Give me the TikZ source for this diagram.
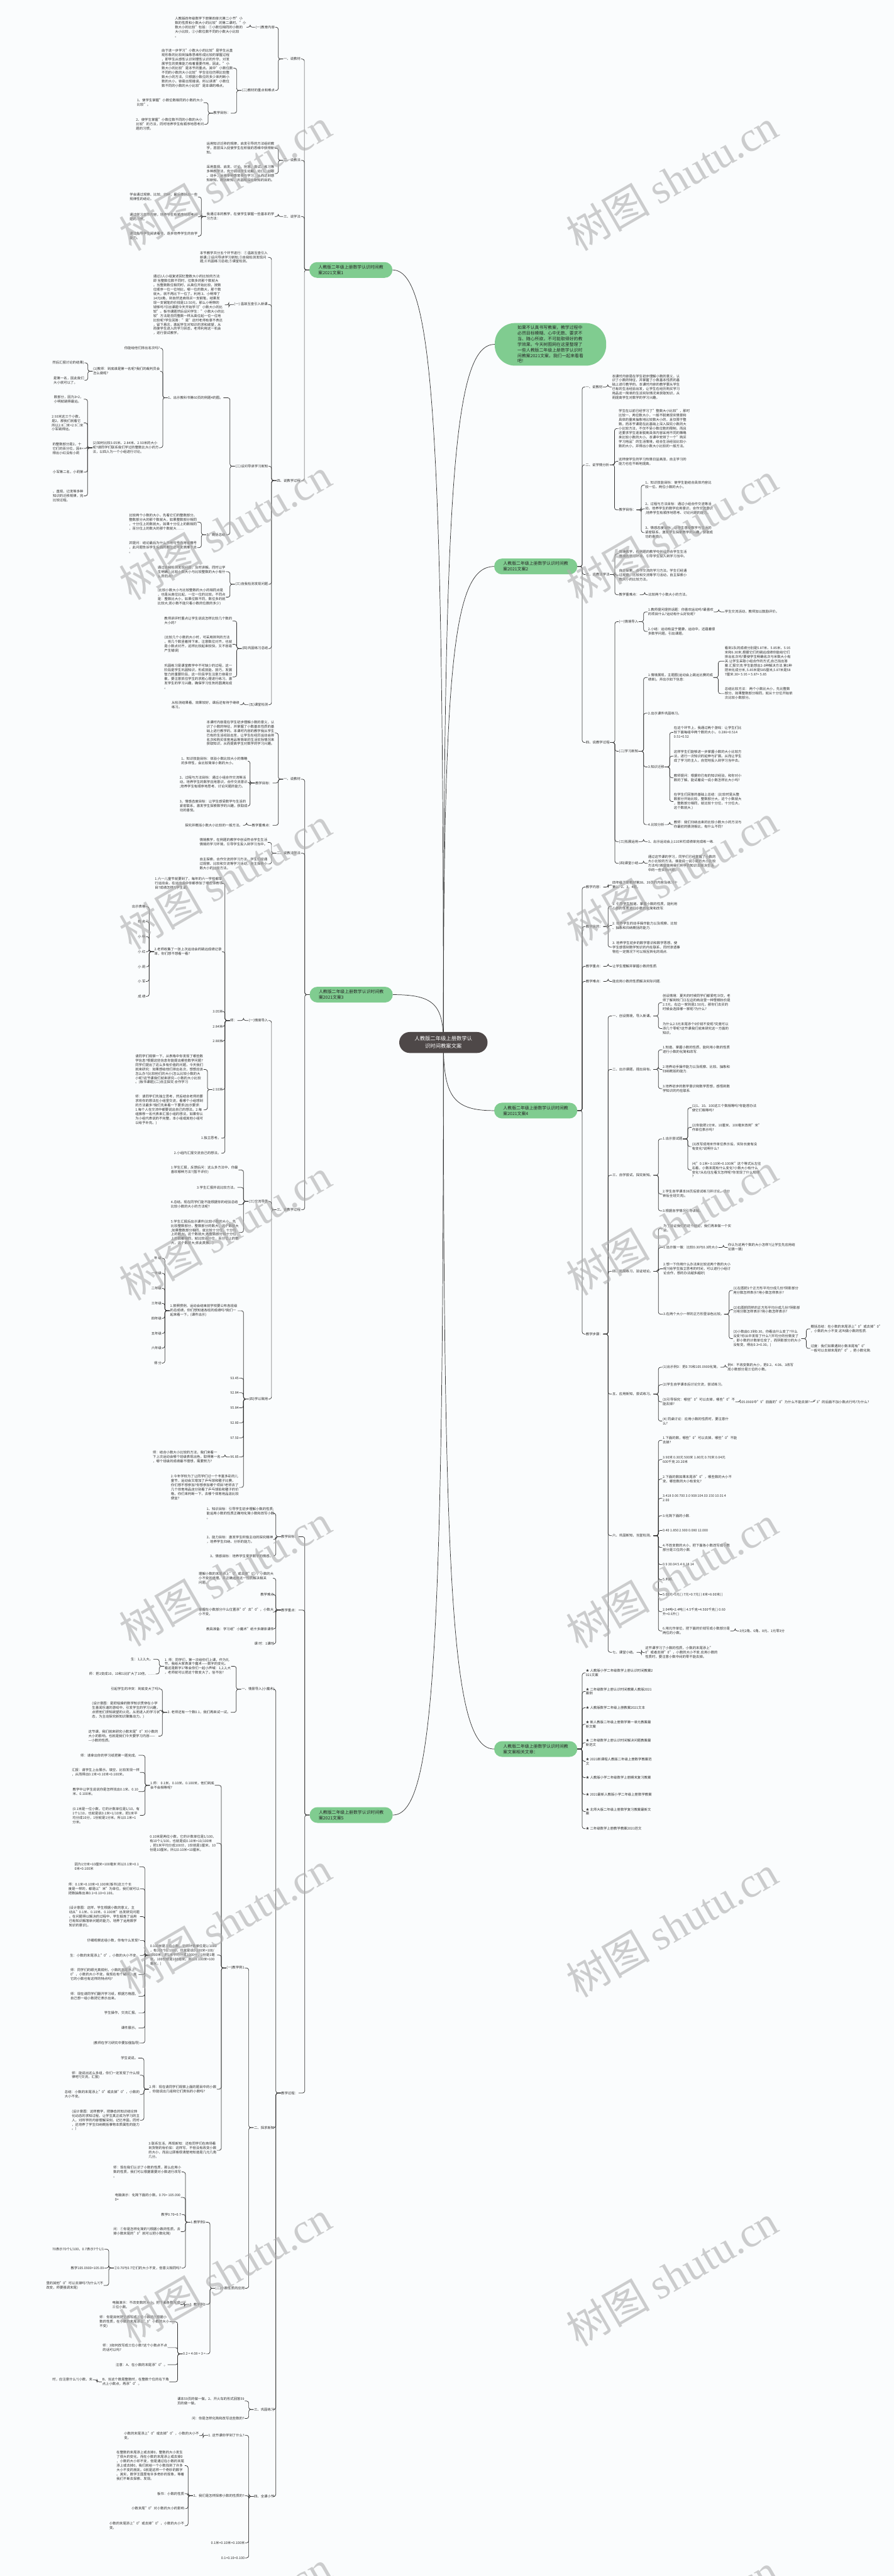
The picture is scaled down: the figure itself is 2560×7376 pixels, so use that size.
\documentclass[tikz,border=0pt]{standalone}
\usepackage{fontspec}
\setmainfont{Noto Sans CJK SC}
\newfontfamily\wmser{Liberation Serif}
\usetikzlibrary{calc}
\definecolor{grn}{HTML}{80CC90}
\definecolor{dk}{HTML}{4E4848}
\definecolor{txt}{HTML}{2E2E2E}
\definecolor{lc}{HTML}{333333}
\definecolor{bgc}{HTML}{FAFCFD}
\newcommand\tf{\fontsize{9.7}{12.5}\selectfont}
\newcommand\brf{\fontsize{12.4}{16}\selectfont}
\newcommand\ctf{\fontsize{15}{21}\selectfont}
\newcommand\lk[2]{\draw[cn] (#1.west) -| ([xshift=-14pt]#1.west |- #2.east) -- (#2.east);}
\newcommand\rk[2]{\draw[cn] (#1.east) -| ([xshift=14pt]#1.east |- #2.west) -- (#2.west);}
\newcommand\lks[2]{\foreach \nn in {#2}{\lk{#1}{\nn}}}
\newcommand\rks[2]{\foreach \nn in {#2}{\rk{#1}{\nn}}}
\newcommand\clv[1]{\draw[cn] (#1.east) .. controls ($(#1.east)!0.8!(#1.east -| C.center)$) and ($(C.center)!0.8!(C.center |- #1.east)$) .. (C.center);}
\newcommand\crv[1]{\draw[cn] (C.center) .. controls ($(C.center)!0.8!(C.center |- #1.west)$) and ($(#1.west)!0.8!(#1.west -| C.center)$) .. (#1.west);}
\newcommand\nl[4]{\node[L] (#1) at (#2,#3) {#4};}
\newcommand\nr[4]{\node[R] (#1) at (#2,#3) {#4};}
\pgfdeclarelayer{bgl}
\pgfdeclarelayer{fgl}
\pgfsetlayers{bgl,main,fgl}
\tikzset{
 tx/.style={font=\tf, align=left, inner sep=1pt, text=txt},
 L/.style={tx, anchor=east},
 R/.style={tx, anchor=west},
 br/.style={rounded corners=22pt, fill=grn, minimum width=238pt, minimum height=45pt, align=left, font=\brf, text=black!85, inner sep=0pt},
 ctr/.style={fill=dk, text=white, rounded corners=30pt, minimum width=253pt, minimum height=60pt, align=center, font=\ctf, inner sep=0pt},
 cn/.style={draw=lc, line width=1.3pt, rounded corners=6pt},
 wm/.style={rotate=30, text=black!32, text opacity=0.6, font=\fontsize{120}{120}\selectfont, inner sep=0pt}
}
\begin{document}
\begin{tikzpicture}[x=1pt,y=-1pt]
\begin{pgfonlayer}{bgl}\fill[bgc] (0,0) rectangle (2560,7376);\end{pgfonlayer}
\useasboundingbox (0,0) rectangle (2560,7376);
% ---------- center and branches
\node[ctr] (C) at (1270,2985) {人教版二年级上册数学认\\识时间教案文案};
\node[br, minimum width=319pt, minimum height=122pt, rounded corners=58pt, anchor=west] (IN) at (1417,986) {如果不认真书写教案，教学过程中\\必然目标模糊、心中无数、要求不\\当、随心所欲，不可能取得好的教\\学效果。今天树图网在这里整理了\\一些人教版二年级上册数学认识时\\间教案2021文案，我们一起来看看\\吧!};
\node[br] (B1) at (1005,773) {人教版二年级上册数学认识时间教\\案2021文案1};
\node[br] (B3) at (1006,2848) {人教版二年级上册数学认识时间教\\案2021文案3};
\node[br] (B5) at (1006,5197) {人教版二年级上册数学认识时间教\\案2021文案5};
\node[br] (B2) at (1534.5,1622) {人教版二年级上册数学认识时间教\\案2021文案2};
\node[br] (B4) at (1534.5,3180) {人教版二年级上册数学认识时间教\\案2021文案4};
\node[br] (B6) at (1534.5,5008) {人教版二年级上册数学认识时间教\\案文案相关文章：};
% ---------- B1
\nl{a1}{862}{169}{一、说教材}
\nl{a2}{862}{459}{二、说教法}
\nl{a3}{862}{620}{三、说学法}
\nl{a4}{862}{1376}{四、说教学过程}
\nl{a11}{788}{78}{(一)教育内容}
\nl{a12}{788}{259}{(二)教材的重点和难点}
\nl{a111}{706}{78}{人教版四年级数学下册第四单元第二小节"小\\数的性质和小数大小的比较"的第二课时。"小\\数大小的比较"包括：①小数位相同的小数的\\大小比较，②小数位数不同的小数大小比较\\。}
\nl{a121}{668}{195}{由于进一步学习"小数大小的比较"是学生从直\\观形象的比较到抽象思维形成比较的掌握过程\\，即学生从感性认识到理性认识的升华，对发\\展学生的类推能力有着重要作用。因此，"小\\数大小的比较"是本节的重点。其中"小数位数\\不同的小数的大小比较"学生往往仿照比较整\\数大小的方法，只根据小数位的多少来判断小\\数的大小，容易出现错误。所以讲清"小数位\\数不同的小数的大小比较"是本课的难点。}
\nl{a122}{661}{324}{教学目标：}
\nl{a1221}{583}{294}{1、使学生掌握"小数位数相同的小数的大小\\比较"。}
\nl{a1222}{585}{356}{2、使学生掌握"小数位数不同的小数的大小\\比较"的方法，同时培养学生有顺序地思考问\\题的习惯。}
\nl{a21}{787}{424}{运用知识迁移的规律，启发引导的方法组织教\\学，层层深入促使学生在积极的思维中获得新\\知。}
\nl{a22}{787}{497}{采用直观、启发、讨论、抢答、尝试、练习等\\多种教学法，充分调动学生动脑、动口、动眼\\、动手，运用多种感官参与学习，从而达到感\\知新知、概括新知、巩固和深化新知的目的。}
\nl{a31}{787}{620}{我通过本的教学，在使学生掌握一些基本的学\\习方法：}
\nl{a311}{567}{564}{学会通过观察、比较、归纳，最后概括出一些\\规律性的结论。}
\nl{a312}{567}{621}{通过学习本节内容，培养学生有顺序地思考问\\题的习惯。}
\nl{a313}{567}{676}{通过指导学生阅读看书，逐步培养学生的自学\\能力。}
\nl{a41}{768}{737}{本节教学共分五个环节进行：①温故互查引入\\新课;②设问导读学习新知;③自我检测发现问\\题;④巩固练习总结;⑤课堂检测。}
\nl{a42}{768}{872}{(一) 温故互查引入新课}
\nl{a421}{644}{873}{通过2人小组复述回忆整数大小的比较的方法:\\即 当整数位数不同时，位数多的那个数就大\\。当整数数位相同时，从高位开始比较，按数\\位顺序一位一位地比，哪一位的数大，那个数\\就大，就不再比下一位了。利用 3、小明带了\\14元8角，到自然选商场买一支钢笔，结果发\\现一支钢笔的价钱是13.50元，那么小明带的\\钱够吗?引出课题今天开始学习"小数大小的比\\较"。板书课题然后设问学生："小数大小的比\\较"方法是否同整数一样从高位起一位一位地\\比较呢?学生回答："是"这时老师有意不表达\\，留下悬念，激起学生对知识的求和欲望，从\\而使学生进入的学习状态，老师利用这一机会\\，进行尝试教学。}
\nl{a43}{769}{1335}{(二)设问导读学习新知}
\nl{a431}{640}{1139}{1、出示教科书第60页的例题4的图。}
\nl{a4311}{459}{997}{你能给他们排出名次吗?}
\nl{a4312}{459}{1063}{(1)教师：到底谁是第一名呢?我们的裁判员会\\怎么做呢?}
\nl{x1}{242}{1039}{然后汇报讨论的结果)}
\nl{x2}{242}{1089}{是第一名，因此我们\\大小就可以了。}
\nl{a4313}{456}{1282}{(2)如何比较3.05米、2.84米、2.93米的大小\\呢?请同学们联系我们学过的整数比大小的方\\法，以四人为一个小组进行讨论。}
\nl{x3}{240}{1143}{数部分，因为3>2，\\小明就跳得最远。}
\nl{x4}{240}{1211}{2.93米这三个小数，\\是2，那我们就看它\\所以2.8□米<2.9□米\\小军跳得远。}
\nl{x5}{240}{1284}{的整数部分是2，十\\它们的百分位，因4<\\得出小红没有小莉}
\nl{x6}{240}{1352}{小军第二名，小莉第}
\nl{x7}{240}{1420}{、直观、记发等多种\\知识的迁移规律，完\\比较过程。}
\nl{a432}{647}{1531}{3、概括总结}
\nl{a4321}{565}{1495}{比较两个小数的大小，先看它们的整数部分，\\整数部分大的那个数就大，如果整数部分相同\\，十分位上的数就大。如果十分位上的数相同\\，百分位上的数大的那个数就大……}
\nl{a4322}{565}{1568}{并提问：结论最后为什么不用句号而用省略号\\，此问题告诉学生后面的数位还可发类推下去\\。}
\nl{a44}{769}{1673}{(三)自我检测发现问题}
\nl{a441}{647}{1637}{通过自我检测发现问题，及时讲解。同时让学\\生明确，比较小数大小与比较整数的大小有什\\么异同点?}
\nl{a442}{647}{1710}{(比较小数大小与比较整数的大小的相同点是\\，也是从高位比起，一位一位的比较。不同点\\是：整数比大小，如果位数不同，数位多的就\\比较大;而小数不能只看小数的位数的多少)}
\nl{a45}{769}{1857}{(四)巩固练习总结}
\nl{a451}{666}{1778}{教师讲评时重点让学生说说怎样比较几个数的\\大小的?}
\nl{a452}{666}{1845}{(比较几个小数的大小时，可采用排列的方法\\，将几个数竖着排下来，注意数位对齐，也就\\是小数点对齐，这样比较起来较快，又不容易\\产生错误)}
\nl{a453}{666}{1938}{巩固练习是课堂教学中不可缺少的过程，这一\\阶段是学生巩固知识，形成技能、技巧，发展\\智力的重要阶段，这一阶段学生注意力容易分\\散，要注意抓住学生的求胜心理进行练习，激\\发学生的学习兴趣，确保学习任务的圆满完成\\。}
\nl{a46}{769}{2018}{(五)课堂检测}
\nl{a461}{687}{2018}{从检测结果看，效果较好，课后还有待于继续\\练习。}
% ---------- B3
\nl{c1}{862}{2231}{一、说教材}
\nl{c2}{862}{2443}{二、说教法学法}
\nl{c3}{862}{3464}{三、说教学过程}
\nl{c11}{787}{2099}{本课时内容是在学生初步理解小数的意义，认\\识了小数的特征，并掌握了小数基本性质的基\\础上进行教学的。本课时内容的教学我从学生\\已有的生活经验出发，让学生在经历运动会排\\名次和购买体育用品等简单的生活实际情况来\\获取知识，从而提高学生对数学的学习兴趣。}
\nl{c12}{781}{2242}{教学目标：}
\nl{c121}{710}{2179}{1、知识技能目标：体验小数比较大小的策略\\的多样性，会比较简单小数的大小。}
\nl{c122}{710}{2240}{2、过程与方法目标：通过小组合作交流等活\\动，培养学生的数学应用意识，合作交流意识\\;培养学生有顺序地思考、讨论问题的能力。}
\nl{c123}{710}{2308}{3、情感态度目标：让学生感受数学与生活的\\紧密联系，激发学生探索数学的兴趣，获取成\\功的喜悦。}
\nl{c13}{781}{2363}{教学重难点：}
\nl{c131}{696}{2363}{探究并概括小数大小比较的一般方法。}
\nl{c21}{767}{2412}{情境教学，在例题的教学中创设符合学生生活\\情境的学习环境，引导学生投入到学习当中。}
\nl{c22}{767}{2474}{自主探索、合作交流的学习方法。学生们经通\\过观察、比较和交流等学习活动，自主探索小\\数大小的比较方法。}
\nl{c31}{769}{2922}{(一)情境导入}
\nl{c311}{680}{2922}{师：}
\nl{c3111}{639}{2529}{1.六一儿童节就要到了，每年的六一学校都举\\行运动会，在运动会中你都参加了哪些体育项\\目?成绩怎样?(学生说)}
\nl{c3112}{636}{2725}{2.老师收集了一张上次运动会的跳远成绩记录\\单，你们想不想看一看?}
\nl{g1}{418}{2596}{出示表格}
\nl{g2}{418}{2639}{姓 名}
\nl{g3}{418}{2682}{小 明}
\nl{g4}{418}{2725}{小 红}
\nl{g5}{418}{2768}{小 莉}
\nl{g6}{418}{2810}{小 军}
\nl{g7}{418}{2853}{成 绩}
\nl{c3113}{639}{2896}{3.05米}
\nl{c3114}{639}{2939}{2.84米}
\nl{c3115}{639}{2981}{2.88米}
\nl{c3116}{639}{3120}{2.93米}
\nl{c31161}{583}{3062}{请同学们观察一下，从表格中你发现了哪些数\\学信息?根据这些信息你能提出哪些数学问题?\\同学们提出了这么多有价值的问题，今天我们\\就来研究：如果想给他们排出名次，想想应该\\怎么办?(比较他们的大小)怎么比较小数的大\\小呢?这节课我们就来研究—小数的大小比较\\。(板书课题)(二)自主探究 合作学习}
\nl{c31162}{583}{3178}{师：请同学们先独立思考，然后结合老师的要\\求将你的想法在小组里交流，看哪个小组想到\\的方法最多?我们先来看一下要求(出示要求：\\1.每个人在交流中都要说出自己的想法。2.每\\组推荐一名代表来汇报小组的想法，如果你认\\为小组代表说的不完整，本小组或其他小组可\\以给予补充。)}
\nl{c3117}{634}{3259}{1.独立思考。}
\nl{c3118}{634}{3302}{2.小组内汇报交流自己的想法。}
\nl{c32}{769}{3440}{(三)交流导思}
\nl{c321}{683}{3350}{1.学生汇报，反馈后问：这么多方法中，你最\\喜欢哪种方法?(暂不评价)}
\nl{c323}{680}{3400}{3.学生汇报并说比较方法。}
\nl{c324}{683}{3449}{4.总结。现在同学们能不能根据你的经验总结\\比较小数的大小的方法呢?}
\nl{c325}{685}{3529}{5.学生汇报后出示课件(比较小数的大小，先\\比较整数部分，整数部分的数大，这个数就大\\;如果整数部分相同，就比较十分位，十分位\\上的数大，这个数就大;若整数部分和十分位\\上的数都相同，就比较百分位，百分位上的数\\大，这个数就大;依此类推。)}
\nl{c33}{769}{4006}{(四)学以致用}
\nl{c331}{681}{3753}{1.按照惯例，运动会结束前学校要公布各班级\\的总成绩，你们想知道各班的成绩吗?我们一\\起来看一下。(课件出示)}
\nl{h1}{464}{3603}{年 级}
\nl{h2}{464}{3646}{一年级}
\nl{h3}{464}{3689}{二年级}
\nl{h4}{464}{3732}{三年级}
\nl{h5}{464}{3775}{四年级}
\nl{h6}{464}{3818}{五年级}
\nl{h7}{464}{3860}{六年级}
\nl{h8}{464}{3903}{得 分}
\nl{c332}{685}{3946}{93.45}
\nl{c333}{685}{3988}{92.84}
\nl{c334}{685}{4031}{95.84}
\nl{c335}{685}{4074}{92.80}
\nl{c336}{685}{4117}{97.50}
\nl{c337}{685}{4172}{96.85}
\nl{c3371}{633}{4172}{师：结合小数大小比较的方法，我们来看一\\下上次运动会哪个班级表现出色，取得第一名\\，哪个班级的成绩最不理想，需要努力?}
\nl{c338}{685}{4259}{2.今年学校为了让同学们过一个丰富多彩的儿\\童节，运动会又增加了乒乓球和毽子比赛，\\你们想不想参加?你想参加哪个项目?老师去了\\几个体育用品店分别看了乒乓球拍和毽子的价\\格，你们来判断一下，去哪个体育用品店比较\\便宜?}
% ---------- B5
\nl{e1}{855}{4400}{教学目标：}
\nl{e2}{855}{4610}{教学重点：}
\nl{e3}{855}{5993}{教学过程：}
\nl{e11}{787}{4333}{1、知识目标：引导学生初步理解小数的性质;\\能运用小数的性质正确地化简小数和改写小数\\。}
\nl{e12}{783}{4408}{2、能力目标：激发学生积极主动的探究精神\\，培养学生归纳、分析的能力。}
\nl{e13}{783}{4455}{3、情感目标：培养学生爱学数学的情感。}
\nl{e21}{785}{4519}{理解小数的末尾添上"0"或去掉"0"，小数的大\\小不变的道理。并正确运用这一性质解决相关\\问题。}
\nl{e22}{786}{4566}{教学难点}
\nl{e23}{785}{4616}{掌握在小数部分什么位置添"0"去"0"，小数大\\小不变。}
\nl{e24}{786}{4664}{教具准备：学习纸"小魔术"纸卡多媒体课件}
\nl{e25}{786}{4707}{课 时：1课时}
\nl{e31}{787}{4837}{一、情景导入(小魔术)}
\nl{e32}{787}{6092}{二、探求新知}
\nl{e33}{787}{6899}{三、巩固练习}
\nl{e34}{787}{7148}{四、全课小节}
\nl{e311}{662}{4771}{1. 师：同学们，第一次给你们上课，作为礼\\节，我给大家表演个魔术——数字的变化。\\看这是数字1?等会你们一起小声喊：1,2,3,大\\，老师就可以把这个数变大了。信不信?}
\nl{e3111}{439}{4751}{生：1,2,3,大。}
\nl{e3112}{446}{4793}{师：把1变成10，10和1比扩大了10倍，……}
\nl{e312}{661}{4903}{2. 老师还有一个数0.1，我们再来试一试。}
\nl{e3121}{459}{4836}{引起学生的冲突：到底变大了吗?}
\nl{e3122}{459}{4897}{(设计意图：是把枯燥的数学知识贯穿在小学\\生喜闻乐道的游戏中，引发学生的学习兴趣，\\点燃他们求知欲望的火花，从而进入的学习状\\态，为主动探究新知识聚集动力。)}
\nl{e3123}{454}{4971}{这节课，我们就来研究小数末尾"0"对小数的\\大小的影响。也就是我们今天要学习内容——\\—小数的性质。}
\nl{e321}{701}{5635}{(一)教学例1}
\nl{e322}{702}{6552}{(二)小数性质的应用}
\nl{e3211}{615}{5112}{1.师： 0.1米、0.10米、0.100米，他们到底\\会不会相等呢?}
\nl{k1}{397}{5026}{师：请拿出你的学习纸把第一题完成。}
\nl{k2}{401}{5075}{汇报：请学生上台展示。填空、比较发现一样\\，从而得出0.1米=0.10米=0.100米。}
\nl{k3}{397}{5130}{教学中让学生说说你是怎样找出0.1米、0.10\\米、0.100米。}
\nl{k4}{401}{5198}{(0.1米是一位小数，它的计数单位是1/10，有\\1个1/10，也就是说0.1米=1/10米，把1米平\\均分成10分，1份就是1分米。所以0.1米=1\\分米。}
\nl{e3212}{620}{5278}{0.10米是两位小数，它的计数单位是1/100，\\有10个1/100，也就是说0.10米=10/100米\\，把1米平均分成100分，1份就是1厘米，10\\份是10厘米。所以0.10米=10厘米。}
\nl{e3213}{622}{5598}{0.100米是三位小数，它的计数单位是1/1000\\，有100个1/1000，也就是说0.100米=100/\\1000米，把1米平均分成1000分，1份是1毫\\米，100份就是100毫米。所以0.100米=100\\毫米。)}
\nl{m1}{399}{5345}{因为1分米=10厘米=100毫米 所以0.1米=0.1\\0米=0.100米}
\nl{m2}{401}{5408}{师：0.1米=0.10米=0.100米(板书)这三个长\\度是一样的，都是以"米"为单位，我们就可以\\把数抽象出来0.1=0.10=0.100。}
\nl{m3}{401}{5488}{(设计意图：这样，学生根据小数的意义，主\\动从"0.1米、0.10米、0.100米"出发研究问题\\。在问题得以解决的过程中，学生锻炼了运用\\已有知识解答新问题的能力，培养了运用数学\\知识的意识)。}
\nl{m4}{401}{5556}{仔细观察这组小数，你有什么发现?}
\nl{m5}{401}{5599}{生：小数的末尾添上"0"，小数的大小不变。}
\nl{m6}{397}{5654}{师：同学们的眼光真锐利，小数的末尾添上"\\0"，小数的大小不变。我现在有个疑问，其\\它的小数也有这样的特点吗?}
\nl{m7}{397}{5716}{师：现在请同学们翻开学习纸，根据方格图，\\自己想一组小数把它表示出来。}
\nl{m8}{397}{5764}{学生操作，交流汇报。}
\nl{m9}{397}{5807}{课件展示。}
\nl{m10}{401}{5850}{(教师在学习研究中要加强指导)}
\nl{e3214}{621}{5982}{2.师：现在请同学们观察上面的题目中的小数\\，你能说出几组和它们类似的小数吗?}
\nl{n1}{396}{5893}{学生说说。}
\nl{n2}{401}{5942}{师：能说出这么多组，你们一定发现了什么规\\律吧?(交流，汇报)}
\nl{n3}{401}{5997}{总结：小数的末尾添上"0"或去掉"0"，小数的\\大小不变。}
\nl{n4}{401}{6071}{(设计意图：这样教学，把静态的知识结论转\\化动态的求知过程，让学生真正成为学习的主\\人，对所学的内容理解深刻，记忆丰固。同时\\，还培养了学生归纳概括事物本质属性的能力\\。)}
\nl{e3215}{621}{6157}{3.联系生活，再现新知：还有同学们在商场看\\到货物的标价如：这样写，不但没有改变小数\\的大小，而且让顾客很清楚地知道是几元几角\\几分。}
\nl{e3221}{590}{6363}{1.教学例2}
\nl{p1}{520}{6219}{师：现在我们认识了小数的性质，那么应用小\\数的性质，我们可以根据需要对小数进行改写\\。}
\nl{p2}{518}{6292}{电脑演示：化简下面的小数。0.70= 105.090\\0=}
\nl{p3}{520}{6341}{教学0.70=0.7}
\nl{p4}{518}{6390}{问：①你是怎样化简的?(根据小数的性质，去\\掉小数末尾的"0"就可以把小数化简)}
\nl{p5}{520}{6494}{②0.70与0.7它们的大小不变，但意义相同吗?}
\nl{p51}{299}{6440}{70表示70个1/100，0.7表示7个1/1}
\nl{p52}{299}{6494}{教学105.0900=105.09}
\nl{p53}{297}{6544}{里的其他"0"可以去掉吗?为什么?(不\\改变，师要强调末尾)}
\nl{e3222}{590}{6598}{2. 教学例3}
\nl{q1}{517}{6599}{电脑演示：不改变数的大小，把下面各数写成\\三位小数。}
\nl{e3223}{590}{6740}{0.2 = 4.08 = 3 =}
\nl{r1}{486}{6648}{师：你是如何把它改写成三位小数的?(根据小\\数的性质，在小数的末尾添上"0"小数的大小\\不变)}
\nl{r2}{480}{6722}{师：3如何改写成三位小数?这个小数点不点\\的话可以吗?}
\nl{r3}{480}{6771}{注意：A、在小数的末尾添"0"。}
\nl{r4}{485}{6820}{B、当这个数是整数时，在整数个位的右下角\\点上小数点，再添"0"。}
\nl{r41}{266}{6814}{时，应注意什么?(小数、末}
\nl{e331}{701}{6875}{课本59页的做一做。2、开火车的形式回答59\\页的做一做。}
\nl{e332}{701}{6925}{问：你是怎样化简和改写这些数的?}
\nl{e341}{701}{6973}{1. 这节课你学到了什么?}
\nl{e3411}{571}{6974}{小数的末尾添上"0"或去掉"0"，小数的大小不\\变。}
\nl{e342}{701}{7146}{2、我们是怎样探索小数的性质的?}
\nl{s1}{529}{7060}{在整数的末尾添上或去掉0，整数的大小发生\\了很大的变化，而在小数的末尾添上或去掉0\\，小数的大小却不变，但是通过在小数的末尾\\添上或去掉0，我们就给一个小数找到了许多\\大小不变的朋友。0就是这样一个奇妙的数字\\。其实，数学王国里有许多奇妙的现象，等着\\我们不断去探索、发现。}
\nl{s2}{529}{7140}{板书：小数的性质}
\nl{s3}{529}{7183}{小数末尾"0"对小数的大小的影响}
\nl{s4}{529}{7232}{小数的末尾添上"0"或去掉"0"，小数的大小不\\变。}
\nl{e343}{702}{7281}{0.1米=0.10米=0.100米}
\nl{e344}{702}{7324}{0.1=0.10=0.100}
% ---------- B2
\nr{b1}{1676}{1108}{一、说教材}
\nr{b11}{1752}{1108}{本课时内容是在学生初步理解小数的意义，认\\识了小数的特征，并掌握了小数基本性质的基\\础上进行教学的。本课时内容的教学要从学生\\已有的生活经验出发，让学生在经历购买学习\\用品这一简单的生活实际情况来获取知识，从\\而提高学生对数学的学习兴趣。}
\nr{b2}{1676}{1331}{二、说学情分析}
\nr{b21}{1771}{1227}{学生在以前已经学习了"整数大小比较"，那时\\比较一、两位数大小，一般不脱离现实情景和\\具体的量来抽象地比较数大小的，且仅限于整\\数。而本节课是在此基础上深入探究小数的大\\小比较方法，不仅不受小数位数的限制，而且\\还要求学生逐渐脱离具体内容采用不同的策略\\来比较小数的大小。本课中安排了一个"购买\\学习用品"的生活情境，结合生活经验比较小\\数的大小，并得出小数大小比较的一般方法。}
\nr{b22}{1771}{1321}{这样使学生的学习热情日益高涨，自主学习的\\能力也在不断地提高。}
\nr{b23}{1772}{1460}{教学目标：}
\nr{b231}{1847}{1389}{1、知识技能目标：使学生能结合具体内容比\\较一位、两位小数的大小。}
\nr{b232}{1847}{1457}{2、过程与方法目标：通过小组合作交流等活\\动，培养学生的数学应用意识，合作交流意识\\;培养学生有顺序地思考、讨论问题的能力。}
\nr{b233}{1847}{1525}{3、情感态度目标：让学生感受数学与生活的\\紧密联系，激发学生探索数学的兴趣，获取成\\功的喜悦。}
\nr{b3}{1677}{1645}{三、说教法学法}
\nr{b31}{1772}{1586}{情境教学，在例题的教学中创设符合学生生活\\情境的学习环境，引导学生投入到学习当中。}
\nr{b32}{1772}{1647}{自主探索、合作交流的学习方法。学生们经通\\过观察、比较和交流等学习活动，自主探索小\\数大小的比较方法。}
\nr{b33}{1772}{1703}{教学重难点：}
\nr{b331}{1856}{1703}{比较两个小数大小的方法。}
\nr{b4}{1677}{2126}{四、说教学过程}
\nr{b41}{1772}{1780}{(一)情境导入}
\nr{b411}{1855}{1752}{1.教师提问提供话题：你喜欢运动吗?最喜欢\\的项目什么?运动有什么好处呢?}
\nr{b4111}{2075}{1752}{学生交流活动，教师加以鼓励评价。}
\nr{b412}{1855}{1808}{2.小结：运动有益于健康，运动中，还蕴着很\\多数学问题。引出课题。}
\nr{b42}{1772}{2151}{(二)学习新知}
\nr{b421}{1855}{1940}{1.情境展现，主题图(运动会上跳远比赛的成\\绩单)。并出示如下信息：}
\nr{b4211}{2075}{1893}{看到1队的成绩分别是5.87米、5.85米、5.95\\米和6.30米,根据它们的跳远成绩你能给它们\\排出名次吗?要使学生明确名次与米数大小有\\关.让学生采取小组合作的方式,自己找出答\\案.汇报交流.学生能想出2-3种解决方法.第1种\\把米化成分米, 5.85米是585厘米,5.87米是58\\7厘米.30> 5.95 > 5.87> 5.85}
\nr{b4212}{2075}{1986}{总结比较方法： 两个小数比大小，先比整数\\部分，如果整数部分相同，就从十分位开始依\\次比较小数部分。}
\nr{b422}{1855}{2042}{2.出示课件巩固练习。}
\nr{b423}{1855}{2196}{3.知识迁移}
\nr{b4231}{1929}{2097}{在这个环节上，我通过两个游戏：让学生们比\\较下面每组中两个数的大小。 0.286<0.514\\0.51<0.52}
\nr{b4232}{1929}{2165}{这样学生们能够进一步掌握小数的大小比较方\\法，进行一次知识的延伸与扩展。从而让学生\\成了学习的主人，自觉地投入到学习当中去。}
\nr{b4233}{1929}{2227}{教师提问：根据你已有的知识经验，和你对小\\数的了解，能试着说一说小数怎样比大小吗?}
\nr{b4234}{1929}{2295}{在学生们回答的基础上总结：(比较时是从整\\数部分开始比较，整数部分大，这个小数就大\\，整数部分相同，就比较十分位，十分位大，\\这个数就大.)}
\nr{b424}{1855}{2361}{4.比较分析}
\nr{b4241}{1929}{2361}{教师：我们归纳出来的比较小数大小的方法与\\你最初的猜测相比，有什么不同?}
\nr{b43}{1772}{2410}{(三)拓展运用}
\nr{b431}{1855}{2410}{1、出示运动会上110米栏成绩单完成练一练.}
\nr{b44}{1772}{2472}{(四)课堂小结}
\nr{b441}{1855}{2472}{通过这节课的学习，同学们已经掌握了小数的\\大小比较的方法。谁能说一说小数的大小比较\\方法吗?希望能用我们所学的知识去解决生活\\中的一些实际问题。}
% ---------- B4
\nr{d1}{1677}{2540}{教学内容：}
\nr{d11}{1753}{2534}{四年级下册教材第38、39页的内容及练习十\\第1、2、3、4题。}
\nr{d2}{1677}{2653}{教学目的：}
\nr{d21}{1753}{2595}{1. 引导学生知道、掌握小数的性质，能利用\\小数的性质进行小数的化简和改写.}
\nr{d22}{1753}{2650}{2. 培养学生的动手操作能力以及观察、比较\\、抽象和归纳概括的能力.}
\nr{d23}{1753}{2712}{3. 培养学生初步的数学意识和数学思想，使\\学生感悟到数学知识的内在联系，同时渗透事\\物在一定情况下可以相互转化的观点.}
\nr{d3}{1677}{2767}{教学重点：}
\nr{d31}{1753}{2767}{让学生理解并掌握小数的性质.}
\nr{d4}{1677}{2810}{教学难点：}
\nr{d41}{1753}{2810}{能应用小数的性质解决实际问题.}
\nr{d5}{1677}{3820}{教学步骤：}
\nr{d51}{1753}{2909}{一、创设情境，导入新课。}
\nr{d511}{1897}{2871}{创设情境：夏天的时候同学们都爱吃冷饮，老\\师了解到校门口左边的商店里一种雪糕标价是\\2.5元，右边一家则是2.50元，那你们去买的\\时候会选择哪一家呢?为什么?}
\nr{d512}{1897}{2945}{为什么2.5元末尾添个0价钱不变呢?究竟可以\\添几个零呢?这节课我们就来研究这一方面的\\知识。}
\nr{d52}{1753}{3062}{二、出示课题，提出目标。}
\nr{d521}{1897}{3006}{1.知道、掌握小数的性质，能利用小数的性质\\进行小数的化简和改写.}
\nr{d522}{1897}{3062}{2.培养动手操作能力以及观察、比较、抽象和\\归纳概括的能力.}
\nr{d523}{1897}{3117}{3.培养初步的数学意识和数学思想，感悟到数\\学知识的内在联系.}
\nr{d53}{1753}{3365}{三、自学尝试，探究新知。}
\nr{d531}{1897}{3261}{1.出示尝试题}
\nr{d5311}{1981}{3172}{(1)1、10、100这三个数相等吗?你能想办法\\使它们相等吗?}
\nr{d5312}{1981}{3228}{(2)你能把1分米、10厘米、100毫米改用"米"\\作单位表示吗?}
\nr{d5313}{1981}{3283}{(3)改写成用米作单位表示后，实际长度有没\\有变化?说明什么?}
\nr{d5314}{1981}{3350}{(4)"0.1米= 0.10米=0.100米"这个等式从左往\\右看，小数末尾有什么变化?小数大小有什么\\变化?从右往左看又怎样呢?你发现了什么规律\\?}
\nr{d532}{1897}{3419}{2.学生自学课本38页后尝试练习并讨论。(5分\\钟后全班交流)。}
\nr{d533}{1897}{3467}{3.根据自学情况引导讲解。}
\nr{d54}{1753}{3640}{四、拓展练习，验证结论。}
\nr{d541}{1899}{3517}{为了验证我们的这个结论，我们再来做一个实\\验。}
\nr{d542}{1899}{3572}{1.出示做一做：比较0.30与0.3的大小}
\nr{d5421}{2084}{3572}{你认为这两个数的大小怎样?(让学生先应用结\\论猜一猜)}
\nr{d543}{1899}{3633}{2.想一下你用什么办法来比较这两个数的大小\\呢?(给学生独立思考的时间，可以进行小组讨\\论合作，想的办法越多越好)}
\nr{d544}{1899}{3763}{3.在两个大小一样的正方形里涂色比较。}
\nr{d5441}{2099}{3695}{(1)左图把1个正方形平均分成几份?阴影部分\\用分数怎样表示?用小数怎样表示?}
\nr{d5442}{2099}{3750}{(2)右图把同样的正方形平均分成几份?阴影部\\分用分数怎样表示?用小数怎样表示?}
\nr{d5443}{2099}{3833}{(3)小数由0.3到0.30，你看出什么变了?什么\\没变?你从中发现了什么?(平均分的份数变了\\，即小数的计数单位变了，而阴影部分的大小\\没有变，得出0.3=0.30。)}
\nr{d54431}{2321}{3805}{概括总结：在小数的末尾添上"0"或去掉"0"\\，小数的大小不变.这叫做小数的性质.}
\nr{d54432}{2321}{3861}{过度：我们如果遇到小数末尾有"0"\\一般可以去掉末尾的"0"，把小数化简.}
\nr{d55}{1753}{3992}{五、应用新知，尝试练习。}
\nr{d551}{1897}{3915}{(1)出示例3：把0.70和105.0900化简。}
\nr{d5511}{2083}{3915}{例4：不改变数的大小，把0.2、4.08、3改写\\成小数部分是三位的小数。}
\nr{d552}{1897}{3965}{(2)学生自学课本后讨论交流，尝试练习。}
\nr{d553}{1897}{4014}{(3)引导探究：哪些"0"可以去掉，哪些"0"不\\能去掉?}
\nr{d5531}{2117}{4014}{105.0900中"9"前面的"0"为什么不能去掉?}
\nr{d55311}{2328}{4014}{"3"的后面不加小数点行吗?为什么?}
\nr{d554}{1897}{4069}{(4) 同桌讨论：应用小数的性质时，要注意什\\么?}
\nr{d56}{1753}{4397}{六、巩固新知，当堂检测。}
\nr{w1}{1897}{4124}{1.下面的数，哪些"0"可以去掉，哪些"0"不能\\去掉?}
\nr{w2}{1897}{4179}{3.90米 0.30元 500米 1.80元 0.70米 0.04元\\600千克 20.20米}
\nr{w3}{1897}{4235}{2.下面的数如果末尾添"0"，哪些数的大小不\\变，哪些数的大小有变化?}
\nr{w4}{1897}{4290}{3.418 0.06 700 3.0 908 104.03 150 10.01 4\\2.00}
\nr{w5}{1897}{4340}{3.化简下面的小数.}
\nr{w6}{1897}{4382}{0.40 1.850 2.900 0.080 12.000}
\nr{w7}{1897}{4431}{4.不改变数的大小，把下面各小数改写成小数\\部分是三位的小数.}
\nr{w8}{1897}{4480}{0.9 30.04 5.4 8.18 14}
\nr{w9}{1897}{4523}{5.判断.}
\nr{w10}{1897}{4566}{5.00元=5元( ) 7元=0.7元( ) 8米=8.00米( )}
\nr{w11}{1897}{4615}{2.04吨=2.4吨( ) 4.5千克=4.500千克( ) 0.60\\升=0.6升( )}
\nr{w12}{1897}{4670}{6.用元作单位，把下面的价钱写成小数部分是\\两位的小数。}
\nr{w121}{2117}{4670}{3元2角、6角、8元、1元零3分}
\nr{d57}{1753}{4731}{七、课堂小结。}
\nr{d571}{1847}{4732}{这节课学习了小数的性质，小数的末尾添上"\\0"或者去掉"0"，小数的大小不变.应用小数的\\性质时，要注意小数中间的零不能去掉。}
% ---------- B6
\nr{f1}{1677}{4790}{★ 人教版小学二年级数学上册认识时间教案2\\021文案}
\nr{f2}{1677}{4843}{★ 二年级数学上册认识时间教案人教版2021\\案例}
\nr{f3}{1677}{4890}{★ 人教版数学二年级上册教案2021文本}
\nr{f4}{1677}{4937}{★ 新人教版二年级上册数学第一单元教案最\\新文案}
\nr{f5}{1677}{4990}{★ 二年级数学上册认识时间解决问题教案最\\新范文}
\nr{f6}{1677}{5043}{★ 2021新课程人教版二年级上册数学教案范\\文}
\nr{f7}{1677}{5090}{★ 人教版小学二年级数学上册期末复习教案}
\nr{f8}{1677}{5138}{★ 2021最新人教版小学二年级上册数学教案}
\nr{f9}{1677}{5187}{★ 北师大版二年级上册数学复习教案最新文\\案}
\nr{f10}{1677}{5236}{★ 二年级数学上册教学教案2021范文}
% ---------- connectors
\begin{pgfonlayer}{bgl}
\clv{B1}\clv{B3}\clv{B5}
\crv{IN}\crv{B2}\crv{B4}\crv{B6}
\end{pgfonlayer}
\lks{B1}{a1,a2,a3,a4}
\lks{a1}{a11,a12}\lk{a11}{a111}\lks{a12}{a121,a122}\lks{a122}{a1221,a1222}
\lks{a2}{a21,a22}\lk{a3}{a31}\lks{a31}{a311,a312,a313}
\lks{a4}{a41,a42,a43,a44,a45,a46}\lk{a42}{a421}
\lks{a43}{a431,a432}\lks{a431}{a4311,a4312,a4313}\lks{a432}{a4321,a4322}
\lks{a4312}{x1,x2}\lks{a4313}{x3,x4,x5,x6,x7}
\lks{a44}{a441,a442}\lks{a45}{a451,a452,a453}\lk{a46}{a461}
\lks{B3}{c1,c2,c3}
\lks{c1}{c11,c12,c13}\lks{c12}{c121,c122,c123}\lk{c13}{c131}
\lks{c2}{c21,c22}
\lks{c3}{c31,c32,c33}\lk{c31}{c311}
\lks{c311}{c3111,c3112,c3113,c3114,c3115,c3116,c3117,c3118}
\lks{c3112}{g1,g2,g3,g4,g5,g6,g7}\lks{c3116}{c31161,c31162}
\lks{c32}{c321,c323,c324,c325}
\lks{c33}{c331,c332,c333,c334,c335,c336,c337,c338}
\lks{c331}{h1,h2,h3,h4,h5,h6,h7,h8}\lk{c337}{c3371}
\lks{B5}{e1,e2,e3}
\lks{e1}{e11,e12,e13}\lks{e2}{e21,e22,e23,e24,e25}
\lks{e3}{e31,e32,e33,e34}
\lks{e31}{e311,e312}\lks{e311}{e3111,e3112}\lks{e312}{e3121,e3122,e3123}
\lks{e32}{e321,e322}
\lks{e321}{e3211,e3212,e3213,e3214,e3215}
\lks{e3211}{k1,k2,k3,k4}
\lks{e3213}{m1,m2,m3,m4,m5,m6,m7,m8,m9,m10}
\lks{e3214}{n1,n2,n3,n4}
\lks{e322}{e3221,e3222,e3223}
\lks{e3221}{p1,p2,p3,p4,p5}\lks{p5}{p51,p52,p53}
\lk{e3222}{q1}\lks{e3223}{r1,r2,r3,r4}\lk{r4}{r41}
\lks{e33}{e331,e332}
\lks{e34}{e341,e342,e343,e344}\lk{e341}{e3411}\lks{e342}{s1,s2,s3,s4}
\rks{B2}{b1,b2,b3,b4}
\rk{b1}{b11}\rks{b2}{b21,b22,b23}\rks{b23}{b231,b232,b233}
\rks{b3}{b31,b32,b33}\rk{b33}{b331}
\rks{b4}{b41,b42,b43,b44}
\rks{b41}{b411,b412}\rk{b411}{b4111}
\rks{b42}{b421,b422,b423,b424}\rks{b421}{b4211,b4212}
\rks{b423}{b4231,b4232,b4233,b4234}\rk{b424}{b4241}
\rk{b43}{b431}\rk{b44}{b441}
\rks{B4}{d1,d2,d3,d4,d5}
\rk{d1}{d11}\rks{d2}{d21,d22,d23}\rk{d3}{d31}\rk{d4}{d41}
\rks{d5}{d51,d52,d53,d54,d55,d56,d57}
\rks{d51}{d511,d512}\rks{d52}{d521,d522,d523}
\rks{d53}{d531,d532,d533}\rks{d531}{d5311,d5312,d5313,d5314}
\rks{d54}{d541,d542,d543,d544}\rk{d542}{d5421}\rks{d544}{d5441,d5442,d5443}
\rks{d5443}{d54431,d54432}
\rks{d55}{d551,d552,d553,d554}\rk{d551}{d5511}\rk{d553}{d5531}\rk{d5531}{d55311}
\rks{d56}{w1,w2,w3,w4,w5,w6,w7,w8,w9,w10,w11,w12}\rk{w12}{w121}
\rk{d57}{d571}
\rks{B6}{f1,f2,f3,f4,f5,f6,f7,f8,f9,f10}
% ---------- watermark
\begin{pgfonlayer}{fgl}
\foreach \yy in {514,1514,2514,3520,4510,5505,6505,7505}{\node[wm] at (645,\yy) {树图 {\wmser shutu.cn}};}
\foreach \yy in {515,1525,2505,3505,4515,5515,6515,7515}{\node[wm] at (1925,\yy) {树图 {\wmser shutu.cn}};}
\end{pgfonlayer}
\end{tikzpicture}
\end{document}
